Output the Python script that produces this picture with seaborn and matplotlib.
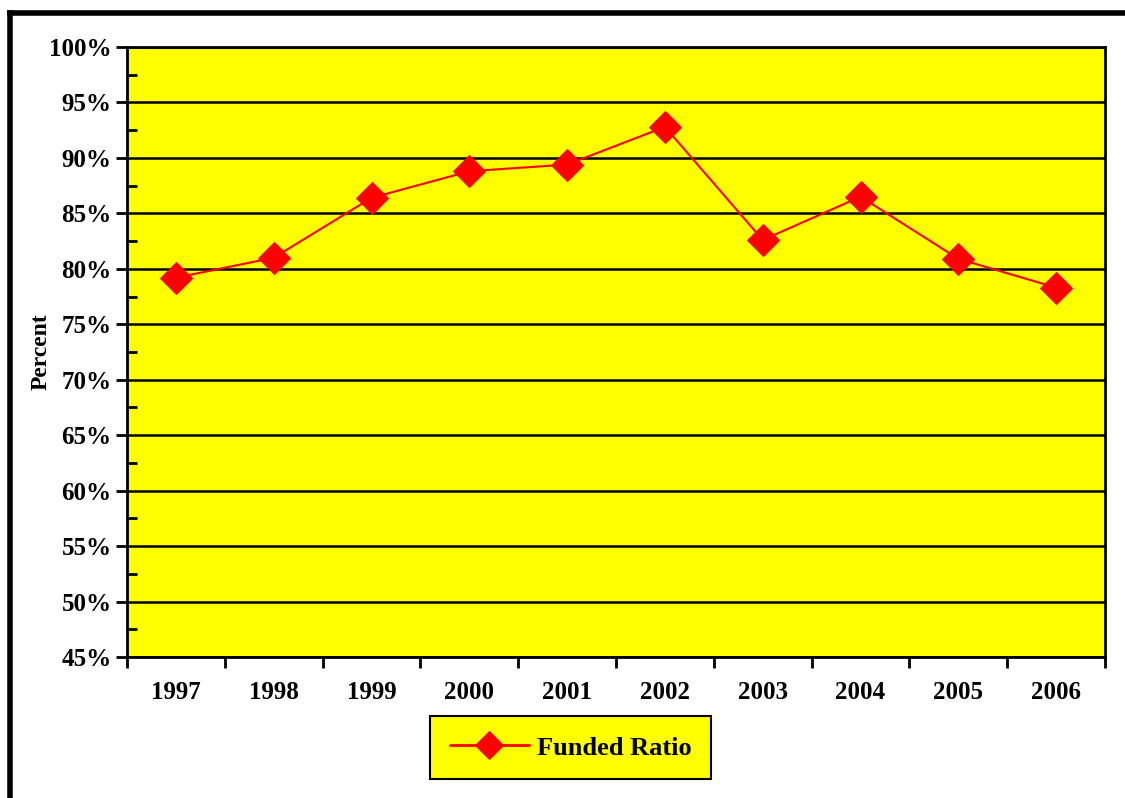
import matplotlib
matplotlib.use("Agg")
import matplotlib.pyplot as plt
from matplotlib.lines import Line2D
from matplotlib.ticker import MultipleLocator, FixedLocator, FuncFormatter
import pandas as pd
import seaborn as sns

# Funded ratio by year (percent)
years = ['1997', '1998', '1999', '2000', '2001', '2002', '2003', '2004', '2005', '2006']
funded = [79.2, 81.0, 86.4, 88.8, 89.4, 92.8, 82.6, 86.5, 80.9, 78.3]
series_name = 'Funded Ratio'

df = pd.DataFrame({'Year': years, 'Ratio': funded, 'Series': series_name})
df['idx'] = range(len(df))

sns.set_style('white', {'xtick.bottom': True, 'ytick.left': True,
                        'text.color': 'black', 'axes.labelcolor': 'black',
                        'xtick.color': 'black', 'ytick.color': 'black'})
plt.rcParams['font.family'] = ['Liberation Serif', 'DejaVu Serif']
plt.rcParams['font.weight'] = 'bold'

fig = plt.figure(figsize=(11.25, 7.98), dpi=100)
ax = fig.add_axes([127 / 1125, 1 - 657 / 798, (1105 - 127) / 1125, (657 - 47) / 798])
ax.set_facecolor('#FFFF00')

sns.lineplot(data=df, x='idx', y='Ratio', hue='Series', palette=['#FF0000'],
             marker='D', markersize=16, markeredgecolor='#FF0000',
             linewidth=1.5, ax=ax, zorder=5)

ax.set_xlim(-0.5, len(years) - 0.5)
ax.set_ylim(45, 100)

# y axis: percent labels, major ticks outward, minor ticks inward
ax.yaxis.set_major_locator(MultipleLocator(5))
ax.yaxis.set_minor_locator(MultipleLocator(2.5))
ax.yaxis.set_major_formatter(FuncFormatter(lambda v, p: f'{v:.0f}%'))
ax.tick_params(axis='y', which='major', direction='out', length=8, width=2,
               labelsize=18, pad=3, left=True)
ax.tick_params(axis='y', which='minor', direction='in', length=7, width=2, left=True)
ax.grid(axis='y', which='major', color='black', linewidth=1.8)

# x axis: labels centred, tick marks at category boundaries
ax.set_xticks(range(len(years)))
ax.set_xticklabels(years)
ax.xaxis.set_minor_locator(FixedLocator([i - 0.5 for i in range(len(years) + 1)]))
ax.tick_params(axis='x', which='major', length=0, labelsize=18, pad=17, bottom=True)
ax.tick_params(axis='x', which='minor', direction='out', length=8, width=2, bottom=True)
for lab in ax.get_xticklabels() + ax.get_yticklabels():
    lab.set_fontweight('bold')

ax.set_xlabel('')
ax.set_ylabel('Percent', fontsize=17, fontweight='bold')
ax.yaxis.set_label_coords(-0.0767, 0.5)

for s in ax.spines.values():
    s.set_visible(True)
    s.set_color('black')
    s.set_linewidth(2)

leg = ax.legend(loc='center', bbox_to_anchor=(0.4535, -0.149), frameon=True,
                facecolor='#FFFF00', edgecolor='black', fancybox=False,
                framealpha=1, prop={'size': 19, 'weight': 'bold'},
                handlelength=3.0, borderpad=0.75, handletextpad=0.3,
                borderaxespad=0)
leg.get_frame().set_linewidth(1.5)
for t in leg.get_texts():
    t.set_color('black')
for h in leg.get_lines():
    h.set_markersize(14)
    h.set_linewidth(2)

# outer chart border (thick, cut off at right and bottom)
fig.add_artist(Line2D([9.5 / 1125, 1.0], [1 - 12.5 / 798, 1 - 12.5 / 798],
                      transform=fig.transFigure, color='black', linewidth=4,
                      solid_capstyle='projecting'))
fig.add_artist(Line2D([9.5 / 1125, 9.5 / 1125], [0.0, 1 - 12.5 / 798],
                      transform=fig.transFigure, color='black', linewidth=4,
                      solid_capstyle='projecting'))

fig.savefig('out.png', dpi=100)
